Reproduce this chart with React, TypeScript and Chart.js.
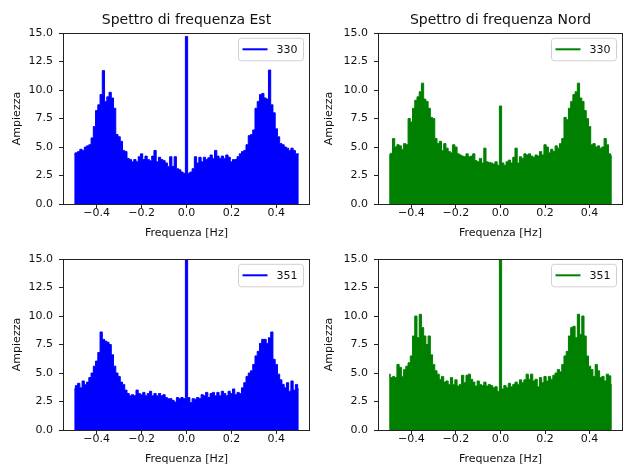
import React, { useEffect, useRef } from 'react';
import { Chart, registerables } from 'chart.js';

Chart.register(...registerables);

// Frequency grid [Hz]
const freq = [
  -0.5, -0.49, -0.48, -0.47, -0.46, -0.45, -0.44, -0.43, -0.42, -0.41,
  -0.4, -0.39, -0.38, -0.37, -0.36, -0.35, -0.34, -0.33, -0.32, -0.31,
  -0.3, -0.29, -0.28, -0.27, -0.26, -0.25, -0.24, -0.23, -0.22, -0.21,
  -0.2, -0.19, -0.18, -0.17, -0.16, -0.15, -0.14, -0.13, -0.12, -0.11,
  -0.1, -0.09, -0.08, -0.07, -0.06, -0.05, -0.04, -0.03, -0.02, -0.01,
  0,
  0.01, 0.02, 0.03, 0.04, 0.05, 0.06, 0.07, 0.08, 0.09, 0.1,
  0.11, 0.12, 0.13, 0.14, 0.15, 0.16, 0.17, 0.18, 0.19, 0.2,
  0.21, 0.22, 0.23, 0.24, 0.25, 0.26, 0.27, 0.28, 0.29, 0.3,
  0.31, 0.32, 0.33, 0.34, 0.35, 0.36, 0.37, 0.38, 0.39, 0.4,
  0.41, 0.42, 0.43, 0.44, 0.45, 0.46, 0.47, 0.48, 0.49, 0.5,
];

// Spectrum envelope, Est, record 330
const est330 = [
  4.4, 4.5, 4.6, 4.8, 4.7, 5.0, 5.1, 5.2, 5.8, 6.8,
  8.2, 8.7, 9.6, 11.7, 9.0, 9.4, 9.8, 9.3, 8.4, 6.1,
  5.9, 5.5, 4.7, 4.6, 4.0, 3.9, 3.7, 3.9, 3.7, 4.15,
  4.4, 3.9, 4.2, 3.9, 3.8, 4.2, 4.7, 3.7, 4.1, 3.9,
  3.8, 3.6, 3.3, 4.15, 3.3, 4.15, 3.1, 3.0, 2.8, 2.7,
  14.7,
  2.7, 2.8, 3.1, 4.15, 3.6, 4.1, 3.7, 4.1, 3.9, 4.05,
  4.3, 4.0, 4.7, 4.2, 4.0, 4.2, 4.0, 4.3, 4.1, 3.7,
  3.9, 3.9, 4.15, 4.4, 4.6, 4.7, 5.2, 6.0, 6.1, 6.5,
  8.4, 9.0, 9.6, 9.7, 9.3, 9.2, 11.75, 8.7, 8.0, 6.6,
  5.9, 5.3, 5.2, 5.0, 4.9, 4.7, 4.9, 4.7, 4.4, 4.4,
];

// Spectrum envelope, Nord, record 330
const nord330 = [
  4.3, 4.45, 5.75, 5.0, 5.2, 5.1, 4.8, 5.3, 5.2, 7.5,
  7.2, 8.4, 9.1, 9.4, 9.85, 10.6, 9.2, 9.0, 8.4, 7.6,
  7.5, 5.75, 5.3, 5.5, 4.7, 5.3, 4.9, 4.6, 4.5, 5.2,
  5.0, 4.4, 4.3, 4.2, 4.15, 4.4, 4.15, 4.2, 4.4, 3.8,
  3.7, 4.0, 3.6, 4.9, 3.7, 3.65, 3.6, 3.5, 3.7, 3.4,
  8.6,
  3.6, 3.4, 3.7, 3.85, 3.6, 4.1, 4.9, 3.6, 4.15, 4.0,
  4.4, 4.3, 4.4, 4.2, 4.1, 4.3, 4.2, 4.6, 4.3, 5.2,
  5.0, 4.5, 4.8, 4.6, 5.1, 4.9, 5.3, 5.75, 7.6, 7.4,
  8.4, 9.0, 9.6, 9.85, 10.6, 9.3, 9.0, 8.2, 7.5, 6.8,
  5.2, 5.3, 5.0, 5.1, 4.9, 5.0, 5.75, 5.2, 4.4, 4.2,
];

// Spectrum envelope, Est, record 351
const est351 = [
  3.6, 3.9, 4.1, 3.7, 4.3, 4.0, 4.2, 4.6, 5.0, 5.6,
  6.05, 6.8, 8.6, 7.95, 7.8, 7.7, 7.5, 6.6, 5.6, 5.0,
  4.7, 4.2, 4.0, 3.5, 3.2, 3.0, 3.1, 3.0, 3.5, 3.2,
  3.1, 3.3, 3.0, 3.2, 3.4, 3.0, 3.2, 3.0, 3.2, 3.0,
  3.1, 2.85, 2.75, 2.75, 2.6, 2.45, 2.85, 2.75, 2.85, 2.75,
  16.5,
  2.85, 2.4, 2.75, 2.7, 2.85, 2.75, 3.1, 3.0, 3.3, 2.85,
  3.2, 3.3, 3.0, 3.3, 3.0, 3.4, 3.2, 3.0, 3.4, 3.2,
  3.6, 3.1, 3.3, 3.2, 3.7, 4.15, 4.7, 5.0, 5.2, 5.75,
  6.5, 6.9, 7.6, 7.95, 7.95, 7.6, 8.1, 8.6, 6.2, 5.75,
  4.9, 4.4, 4.0, 3.7, 4.15, 3.4, 4.3, 3.5, 4.0, 3.6,
];

// Spectrum envelope, Nord, record 351
const nord351 = [
  4.9, 4.6, 4.7, 4.6, 5.75, 5.5, 4.7, 5.3, 5.6, 5.9,
  6.5, 8.25, 10.0, 8.1, 10.15, 9.0, 8.25, 7.5, 8.25, 6.6,
  5.75, 5.2, 4.9, 4.45, 4.7, 4.2, 4.3, 4.0, 4.6, 4.0,
  4.4, 3.85, 4.0, 4.8, 4.15, 4.8, 4.9, 4.45, 4.2, 3.85,
  4.3, 4.0, 3.9, 4.2, 3.85, 4.0, 3.9, 3.7, 3.8, 3.4,
  16.5,
  3.6, 3.9, 3.7, 4.1, 3.8, 4.0, 4.2, 4.0, 4.4, 4.15,
  4.4, 4.9, 4.45, 4.9, 4.3, 4.45, 3.8, 4.6, 4.15, 4.7,
  4.3, 4.7, 4.45, 4.8, 5.0, 5.3, 5.1, 5.75, 6.5, 6.9,
  8.25, 9.0, 9.1, 8.1, 10.15, 8.4, 10.0, 8.25, 6.5, 5.6,
  5.3, 4.7, 5.75, 5.2, 4.6, 4.7, 4.3, 4.9, 4.75, 4.0,
];

const xTicks = [-0.4, -0.2, 0, 0.2, 0.4];
const yTicks = [0, 2.5, 5, 7.5, 10, 12.5, 15];

const FONT = 'DejaVu Sans';
const TEXT = '#111';
const AXIS = '#222';

type PanelProps = {
  left: number;
  top: number;
  title?: string;
  label: string;
  color: string;
  values: number[];
  yWidth: number;
  padRight: number;
};

function fmtX(v: number) {
  const s = Math.abs(v).toFixed(1);
  return v < -1e-9 ? '\u2212' + s : s;
}

function Panel(p: PanelProps) {
  const ref = useRef<HTMLCanvasElement>(null);
  useEffect(() => {
    const decor = {
      id: 'decor',
      afterDatasetsDraw(chart: any) {
        const { ctx, chartArea } = chart;
        const l = Math.round(chartArea.left) + 0.5;
        const t = Math.round(chartArea.top) + 0.5;
        const r = Math.round(chartArea.right) - 0.5;
        const b = Math.round(chartArea.bottom) + 0.5;
        ctx.save();
        // frame
        ctx.strokeStyle = AXIS;
        ctx.lineWidth = 1;
        ctx.strokeRect(l, t, r - l, b - t);
        // title
        if (p.title) {
          ctx.fillStyle = TEXT;
          ctx.font = `14px "${FONT}"`;
          ctx.textAlign = 'center';
          ctx.textBaseline = 'alphabetic';
          ctx.fillText(p.title, (chartArea.left + chartArea.right) / 2, chartArea.top - 9);
        }
        // legend
        const w = 65;
        const h = 22.5;
        const bx = chartArea.right - 6.5 - w;
        const by = chartArea.top + 5.3;
        ctx.beginPath();
        ctx.roundRect(bx, by, w, h, 3);
        ctx.fillStyle = 'rgba(255,255,255,0.8)';
        ctx.fill();
        ctx.strokeStyle = '#d0d0d0';
        ctx.lineWidth = 1;
        ctx.stroke();
        ctx.beginPath();
        ctx.moveTo(bx + 4, by + 11);
        ctx.lineTo(bx + 29, by + 11);
        ctx.strokeStyle = p.color;
        ctx.lineWidth = 2;
        ctx.stroke();
        ctx.fillStyle = TEXT;
        ctx.font = `11px "${FONT}"`;
        ctx.textAlign = 'left';
        ctx.textBaseline = 'middle';
        ctx.fillText(p.label, bx + 38, by + 11.5);
        ctx.restore();
      },
    };

    const chart = new Chart(ref.current as HTMLCanvasElement, {
      type: 'line',
      data: {
        datasets: [
          {
            label: p.label,
            data: freq.map((f, i) => ({ x: f, y: p.values[i] })),
            borderColor: p.color,
            backgroundColor: p.color,
            borderWidth: 1,
            fill: 'origin',
            stepped: 'middle',
            pointRadius: 0,
            tension: 0,
          },
        ],
      },
      options: {
        responsive: false,
        animation: false,
        devicePixelRatio: 1,
        layout: { padding: { left: 0, top: 33, right: p.padRight, bottom: 0 } },
        plugins: {
          legend: { display: false },
          title: { display: false },
          tooltip: { enabled: false },
        },
        scales: {
          x: {
            type: 'linear',
            min: -0.55,
            max: 0.55,
            afterFit: (s: any) => {
              s.height = 37;
            },
            afterBuildTicks: (s: any) => {
              s.ticks = xTicks.map((v) => ({ value: v }));
            },
            ticks: {
              callback: (v: any) => fmtX(Number(v)),
              font: { family: FONT, size: 11 },
              color: TEXT,
              padding: -1,
              maxRotation: 0,
              autoSkip: false,
            },
            grid: { drawOnChartArea: false, drawTicks: true, tickLength: 4, tickColor: AXIS, tickWidth: 1 },
            border: { display: false },
            title: {
              display: true,
              text: 'Frequenza [Hz]',
              font: { family: FONT, size: 11 },
              color: TEXT,
              padding: { top: 0, bottom: 1 },
            },
          },
          y: {
            type: 'linear',
            min: 0,
            max: 15,
            afterFit: (s: any) => {
              s.width = p.yWidth;
            },
            afterBuildTicks: (s: any) => {
              s.ticks = yTicks.map((v) => ({ value: v }));
            },
            ticks: {
              callback: (v: any) => Number(v).toFixed(1),
              font: { family: FONT, size: 11 },
              color: TEXT,
              padding: 6,
              autoSkip: false,
            },
            grid: { drawOnChartArea: false, drawTicks: true, tickLength: 4, tickColor: AXIS, tickWidth: 1 },
            border: { display: false },
            title: {
              display: true,
              text: 'Ampiezza',
              font: { family: FONT, size: 11 },
              color: TEXT,
              padding: { top: 10.4, bottom: 0 },
            },
          },
        },
      },
      plugins: [decor],
    } as any);
    return () => chart.destroy();
  }, []);
  return (
    <canvas
      ref={ref}
      width={312}
      height={241}
      style={{ position: 'absolute', left: p.left, top: p.top, width: 312, height: 241 }}
    />
  );
}

export default function App() {
  return (
    <div style={{ position: 'fixed', left: 0, top: 0, width: 624, height: 467, background: '#fff', overflow: 'hidden' }}>
      <Panel left={0} top={0} title="Spettro di frequenza Est" label="330" color="#0000ff" values={est330} yWidth={63} padRight={2} />
      <Panel left={312} top={0} title="Spettro di frequenza Nord" label="330" color="#008000" values={nord330} yWidth={66} padRight={1} />
      <Panel left={0} top={226} label="351" color="#0000ff" values={est351} yWidth={63} padRight={2} />
      <Panel left={312} top={226} label="351" color="#008000" values={nord351} yWidth={66} padRight={1} />
    </div>
  );
}
